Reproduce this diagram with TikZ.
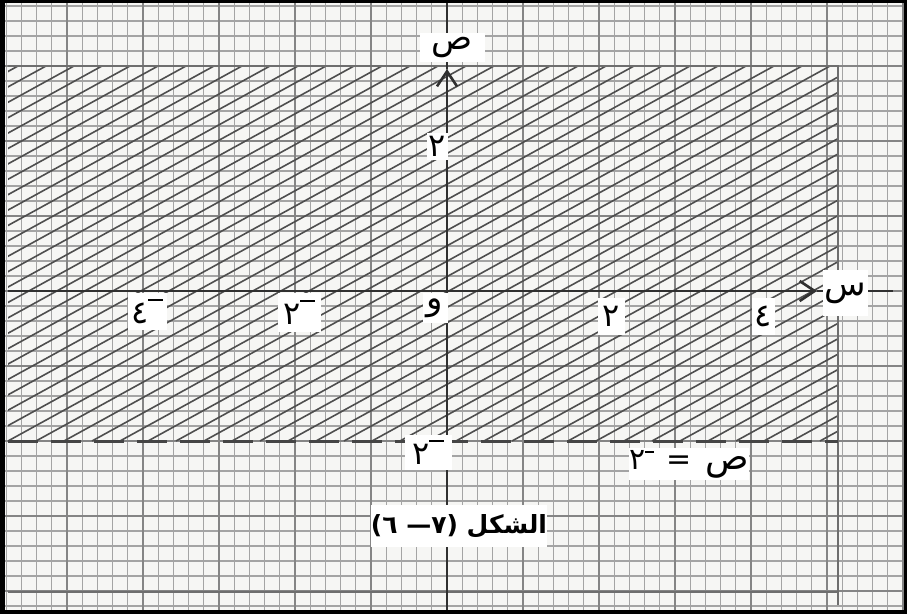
\documentclass[tikz,border=0pt]{standalone}
\usepackage{fontspec}
\usetikzlibrary{arrows.meta}
\newfontfamily\arabicfont[Script=Arabic]{DejaVu Sans}
\TeXXeTstate=1
\newcommand{\negbar}{\raisebox{0.7em}{\rule{0.45em}{0.07em}}}
\definecolor{paper}{HTML}{F6F6F4}
\definecolor{minorc}{HTML}{A4A4A4}
\definecolor{majorc}{HTML}{858585}
\definecolor{hatchc}{HTML}{4E4E4E}
\definecolor{axisc}{HTML}{303030}
\definecolor{framec}{HTML}{6E6E6E}
\tikzset{
  minorline/.style={draw=minorc, line width=1.3pt},
  majorline/.style={draw=majorc, line width=1.9pt},
  hatchline/.style={draw=hatchc, line width=1.6pt},
  frameline/.style={draw=framec, line width=2pt},
  dashline/.style={draw=axisc!90, line width=3pt, dash pattern=on 30pt off 13pt},
  axisline/.style={draw=axisc, line width=2.4pt},
  barb/.style={-{Straight Barb[length=15pt,width=20pt,line width=2.6pt]}},
  lab/.style={fill=white, inner sep=0pt, font=\arabicfont\fontsize{32}{34}\selectfont, text=black},
  letlab/.style={lab, font=\arabicfont\fontsize{34}{36}\selectfont},
}
\begin{document}
\begin{tikzpicture}[x=1pt,y=-1pt]
\useasboundingbox (0,0) rectangle (907,613);
\fill[paper] (0,0) rectangle (907,613);
% graph paper
\foreach \k in {-29,...,30} \draw[minorline] ({447+15.2*\k},0) -- ({447+15.2*\k},613);
\foreach \k in {-19,...,21} \draw[minorline] (0,{291+15*\k}) -- (907,{291+15*\k});
\foreach \k in {-5,...,6} \draw[majorline] ({447+76*\k},0) -- ({447+76*\k},613);
\foreach \k in {-3,...,4} \draw[majorline] (0,{291+75*\k}) -- (907,{291+75*\k});
% hatched region y > -2
\begin{scope}
  \clip (8,66) rectangle (838,441);
  \foreach \k in {0,...,62} \draw[hatchline] ({-720+28*\k},441) -- ++(682,-375);
\end{scope}
% region frame
\draw[frameline] (8,66) -- (838,66) -- (838,605);
\draw[frameline] (8,592) -- (838,592);
% boundary y = -2 (dashed)
\coordinate (dl) at (8,441);
\coordinate (dr) at (838,441);
\draw[dashline] (dl) -- (dr);
% axes
\coordinate (ybot) at (447,613);
\coordinate (ytop) at (447,69);
\coordinate (xl) at (8,291);
\coordinate (xr) at (817,291);
\coordinate (xend) at (893,291);
\draw[axisline] (447,0) -- (ytop);
\draw[axisline, barb] (ybot) -- (ytop);
\draw[axisline] (xr) -- (xend);
\draw[axisline, barb] (xl) -- (xr);
% labels
\node[letlab, minimum width=65pt, minimum height=29pt] (ylab) at (452,47) {ص};
\node[letlab, minimum width=45pt, minimum height=46pt] (xlab) at (845,293) {س};
\node[lab, minimum width=39pt, minimum height=37pt] (m4) at (147,311) {٤\negbar};
\node[lab, minimum width=43pt, minimum height=39pt] (m2) at (299,312) {٢\negbar};
\node[letlab, minimum width=25pt, minimum height=30pt] (o) at (435,308) {و};
\node[lab, minimum width=27pt, minimum height=37pt] (p2) at (611,316) {٢};
\node[lab, minimum width=23pt, minimum height=37pt] (p4) at (763,316) {٤};
\node[lab, minimum width=21pt, minimum height=27pt] (y2) at (437,146) {٢};
\node[lab, minimum width=47pt, minimum height=35pt] (ym2) at (428,452) {٢\negbar};
\node[lab, minimum width=117pt, minimum height=32pt, font=\arabicfont\fontsize{30}{32}\selectfont] (eq) at (689,464) {٢\raisebox{0.55em}{\rule{0.3em}{0.07em}}\hspace{12pt}=\hspace{14pt}{\fontsize{36}{38}\selectfont ص}};
\node[lab, minimum width=168pt, minimum height=42pt, font=\arabicfont\bfseries\fontsize{25}{27}\selectfont] (cap) at (459,526) {\beginR الشكل (٧— ٦)\endR};
% scan border
\draw[black, line width=6pt] (0,0) rectangle (907,613);
\fill[black] (0,0) rectangle (5,613);
\end{tikzpicture}
\end{document}
